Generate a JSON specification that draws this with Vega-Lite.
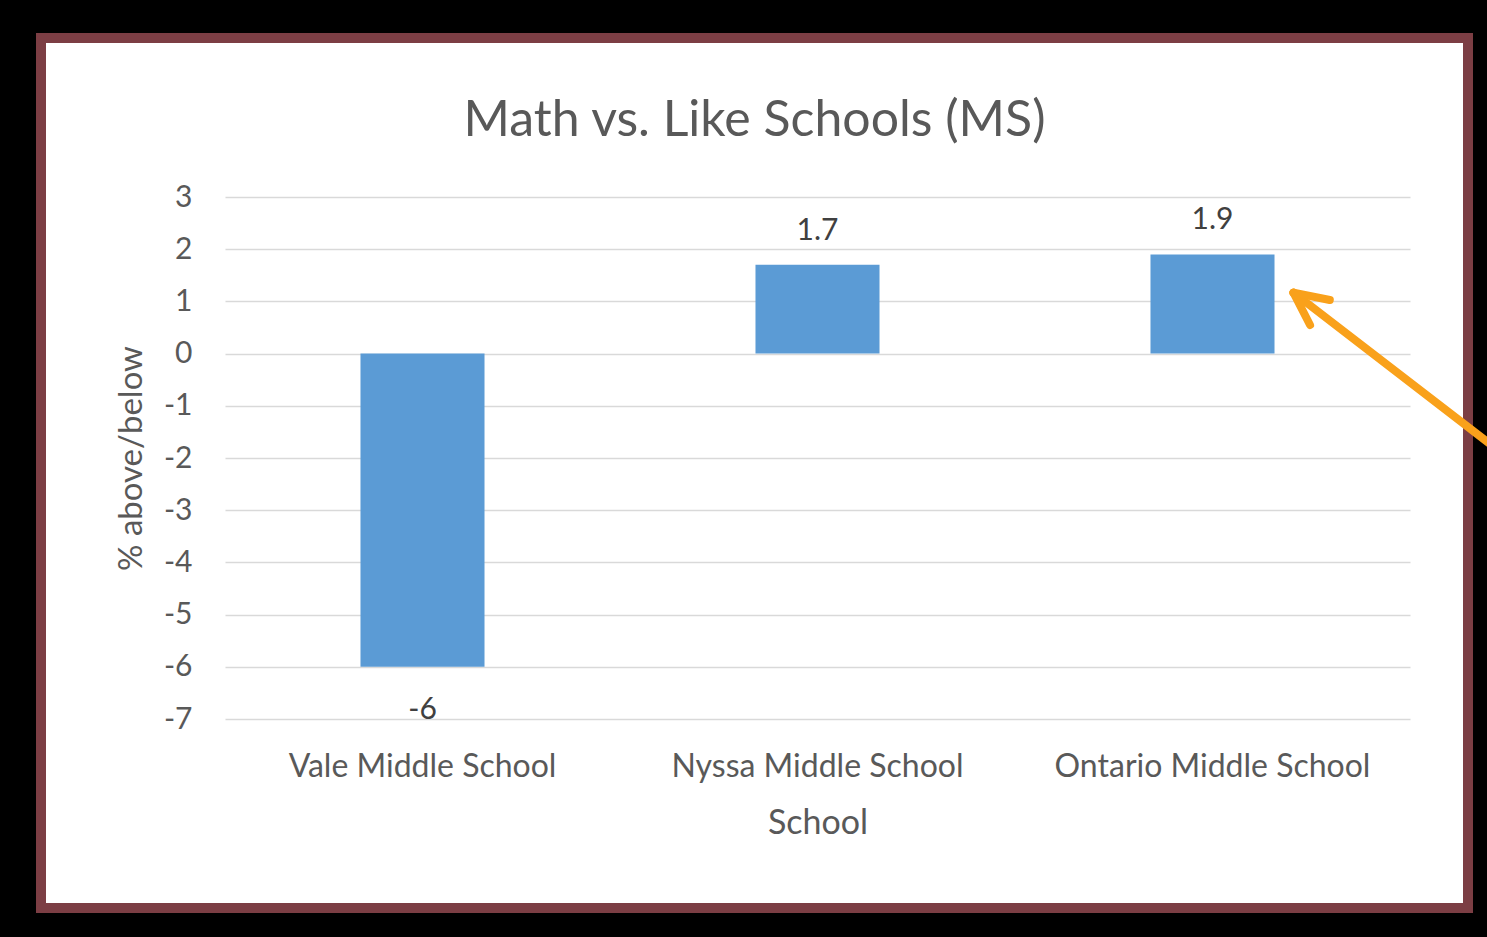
{
  "$schema": "https://vega.github.io/schema/vega-lite/v6.json",
  "width": 1427,
  "height": 870,
  "autosize": {"type": "none"},
  "padding": {"left": 41, "top": 38, "right": 19, "bottom": 29},
  "background": "#000000",
  "title": {
    "text": "Math vs. Like Schools (MS)",
    "font": "Lato",
    "fontSize": 50,
    "fontWeight": "normal",
    "color": "#595959",
    "anchor": "middle",
    "frame": "group",
    "baseline": "alphabetic",
    "offset": -148
  },
  "config": {
    "view": {"fill": "#ffffff", "stroke": "#7c3e44", "strokeWidth": 10},
    "font": "Lato"
  },
  "layer": [
    {
      "data": {
        "values": [
          {"school": "Vale Middle School", "v": -6},
          {"school": "Nyssa Middle School", "v": 1.7},
          {"school": "Ontario Middle School", "v": 1.9}
        ]
      },
      "encoding": {
        "x": {
          "field": "school",
          "type": "nominal",
          "sort": null,
          "scale": {"range": [184, 1369], "paddingInner": 0.686, "paddingOuter": 0.343},
          "axis": {
            "title": "School",
            "titleFont": "Lato",
            "titleFontSize": 34,
            "titleFontWeight": "normal",
            "titleColor": "#595959",
            "titlePadding": 24,
            "labelFont": "Lato",
            "labelFontSize": 32,
            "labelColor": "#595959",
            "labelAngle": 0,
            "labelPadding": 32,
            "labelLimit": 0,
            "domain": false,
            "ticks": false,
            "grid": false,
            "offset": -189
          }
        },
        "y": {
          "field": "v",
          "type": "quantitative",
          "scale": {"domain": [-7, 3], "range": [681, 159], "nice": false, "zero": false},
          "axis": {
            "title": "% above/below",
            "titleFont": "Lato",
            "titleFontSize": 33,
            "titleFontWeight": "normal",
            "titleColor": "#595959",
            "titlePadding": 15,
            "values": [-7, -6, -5, -4, -3, -2, -1, 0, 1, 2, 3],
            "labelExpr": "'' + datum.value",
            "labelFont": "Lato",
            "labelFontSize": 30,
            "labelColor": "#595959",
            "labelPadding": 33,
            "domain": false,
            "ticks": false,
            "grid": true,
            "gridColor": "#d9d9d9",
            "gridWidth": 1.5,
            "offset": -184
          }
        }
      },
      "layer": [
        {"mark": {"type": "bar", "color": "#5b9bd5"}},
        {
          "transform": [{"filter": "datum.v >= 0"}],
          "mark": {"type": "text", "font": "Lato", "fontSize": 30, "color": "#404040", "baseline": "alphabetic", "dy": -25},
          "encoding": {"text": {"field": "v", "type": "nominal"}}
        },
        {
          "transform": [{"filter": "datum.v < 0"}],
          "mark": {"type": "text", "font": "Lato", "fontSize": 30, "color": "#404040", "baseline": "alphabetic", "dy": 52},
          "encoding": {"text": {"field": "v", "type": "nominal"}}
        }
      ]
    },
    {
      "data": {
        "values": [
          {"part": "shaft", "x": 2.705, "y": 1.167, "x2": 3.23, "y2": -1.89},
          {"part": "arm1", "x": 2.705, "y": 1.167, "x2": 2.797, "y2": 1.027},
          {"part": "arm2", "x": 2.705, "y": 1.167, "x2": 2.747, "y2": 0.548}
        ]
      },
      "mark": {"type": "rule", "color": "#f9a11b", "strokeWidth": 8, "strokeCap": "round", "clip": false},
      "encoding": {
        "x": {"field": "x", "type": "quantitative", "scale": {"domain": [0, 3], "range": [184, 1369], "nice": false, "zero": false}, "axis": null},
        "x2": {"field": "x2"},
        "y": {"field": "y", "type": "quantitative", "axis": null},
        "y2": {"field": "y2"}
      }
    }
  ],
  "resolve": {"scale": {"x": "independent"}, "axis": {"x": "independent", "y": "independent"}}
}
